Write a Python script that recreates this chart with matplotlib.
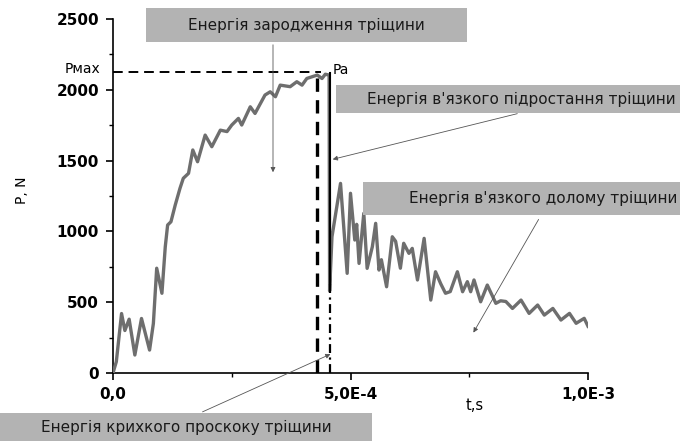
import matplotlib
matplotlib.use("Agg")
import matplotlib.pyplot as plt
from matplotlib.patches import Rectangle, FancyArrowPatch
from matplotlib.ticker import FixedLocator, FuncFormatter

# load curve: time in units of 1e-4 s, load in N
t_e4 = [0.0, 0.07, 0.18, 0.25, 0.34, 0.46, 0.60, 0.77, 0.85, 0.92, 1.03, 1.10,
        1.15, 1.22, 1.31, 1.41, 1.48, 1.59, 1.68, 1.78, 1.94, 2.08, 2.26, 2.40,
        2.50, 2.64, 2.71, 2.89, 2.99, 3.20, 3.31, 3.42, 3.52, 3.73, 3.87, 3.98,
        4.08, 4.30, 4.40, 4.47, 4.55, 4.56,
        4.61, 4.79, 4.93, 5.00, 5.09, 5.13, 5.18, 5.28, 5.35, 5.46, 5.53, 5.60,
        5.65, 5.76, 5.88, 5.95, 6.05, 6.12, 6.23, 6.30, 6.41, 6.55, 6.69, 6.79,
        6.90, 7.00, 7.10, 7.25, 7.36, 7.46, 7.53, 7.60, 7.74, 7.88, 8.06, 8.16,
        8.27, 8.41, 8.59, 8.76, 8.94, 9.08, 9.26, 9.43, 9.61, 9.75, 9.92, 10.0]
load = [0, 80, 420, 300, 380, 127, 385, 162, 350, 740, 563, 890,
        1045, 1068, 1186, 1304, 1375, 1410, 1575, 1492, 1680, 1598, 1715, 1705,
        1751, 1798, 1751, 1880, 1833, 1963, 1986, 1951, 2033, 2022, 2057, 2033,
        2080, 2104, 2080, 2110, 2104, 580,
        962, 1339, 704, 1269, 939, 1050, 774, 1128, 739, 892, 1057, 727,
        800, 609, 962, 930, 740, 916, 845, 880, 657, 951, 515, 715,
        630, 563, 575, 715, 574, 645, 574, 657, 503, 621, 492, 510,
        505, 456, 515, 421, 480, 409, 456, 374, 421, 351, 386, 330]
t = [v * 1e-4 for v in t_e4]

# characteristic points
t_max, p_max = 4.30e-4, 2128
t_a, p_a = 4.56e-4, 2116
p_solid_end = 630

yticks = [0, 500, 1000, 1500, 2000, 2500]
xticks = [0.0, 5e-4, 1e-3]
xtick_labels = ["0,0", "5,0E-4", "1,0E-3"]

box_texts = ["Енергія зародження тріщини",
             "Енергія в'язкого підростання тріщини",
             "Енергія в'язкого долому тріщини",
             "Енергія крихкого проскоку тріщини"]

W, H = 680, 441
fig = plt.figure(figsize=(W / 100, H / 100), dpi=100)
ax = fig.add_axes([113 / W, 1 - 373 / H, 475 / W, 354 / H])


def fx(px):
    return px / W


def fy(py):
    return 1 - py / H


ax.plot(t, load, color="#6e6e6e", lw=2.4, zorder=3, solid_joinstyle="round")

# Pmax / Pa construction lines
ax.plot([0, 4.38e-4], [p_max, p_max], color="k", lw=1.4, ls=(0, (5, 3)), zorder=4)
ax.plot([t_max, t_max], [0, p_max], color="k", lw=2.4, ls=(0, (4, 2.5)), zorder=4)
ax.plot([t_a, t_a], [p_solid_end, p_a], color="k", lw=1.5, zorder=4)
ax.plot([t_a, t_a], [0, p_solid_end], color="k", lw=1.6,
        ls=(0, (4, 2, 1, 2)), zorder=4)

ax.set_xlim(0, 1e-3)
ax.set_ylim(0, 2500)
for s in ("top", "right"):
    ax.spines[s].set_visible(False)
for s in ("left", "bottom"):
    ax.spines[s].set_linewidth(1.2)

ax.xaxis.set_major_locator(FixedLocator(xticks))
ax.xaxis.set_minor_locator(FixedLocator([2.5e-4, 7.5e-4]))
ax.xaxis.set_major_formatter(FuncFormatter(lambda v, i: xtick_labels[i] if i is not None else ""))
ax.yaxis.set_major_locator(FixedLocator(yticks))
ax.yaxis.set_minor_locator(FixedLocator([250, 750, 1250, 1750, 2250]))
ax.tick_params(which="major", direction="out", length=5, width=1.2, pad=5)
ax.tick_params(which="minor", direction="out", length=3, width=1.0)
for lab in ax.get_xticklabels() + ax.get_yticklabels():
    lab.set_fontweight("bold")
    lab.set_fontsize(11)

fig.text(fx(22), fy(190), "P, N", rotation=90, ha="center", va="center", fontsize=10)
fig.text(fx(475), fy(405), "t,s", ha="center", va="center", fontsize=10.5)
fig.text(fx(100), fy(69), "Рмах", ha="right", va="center", fontsize=10)
fig.text(fx(333), fy(70), "Pa", ha="left", va="center", fontsize=10)

# grey label boxes (x0, y0, x1, y1 in pixels from top-left)
boxes = [(146, 8, 467, 42), (336, 85, 680, 113), (363, 182, 680, 215), (0, 413, 372, 441)]
box_anchor = [(306, 25, "center"), (676, 99, "right"), (677, 198, "right"), (186, 427, "center")]
for (x0, y0, x1, y1), (tx, ty, ha), txt in zip(boxes, box_anchor, box_texts):
    fig.patches.append(Rectangle((fx(x0), fy(y1)), (x1 - x0) / W, (y1 - y0) / H,
                                 transform=fig.transFigure, facecolor="#b3b3b3",
                                 edgecolor="none", zorder=0))
    fig.text(fx(tx), fy(ty), txt, ha=ha, va="center", fontsize=11, color="#1a1a1a")

# thin pointer arrows
arrows = [((273, 42), (273, 175)), ((520, 113), (330, 160)),
          ((540, 217), (472, 335)), ((200, 413), (333, 353))]
for (sx, sy), (ex, ey) in arrows:
    fig.add_artist(FancyArrowPatch(
        (fx(sx), fy(sy)), (fx(ex), fy(ey)), transform=fig.transFigure,
        arrowstyle="-|>", mutation_scale=7, color="#555555", lw=0.6, zorder=5))

fig.savefig("out.png", dpi=100)
